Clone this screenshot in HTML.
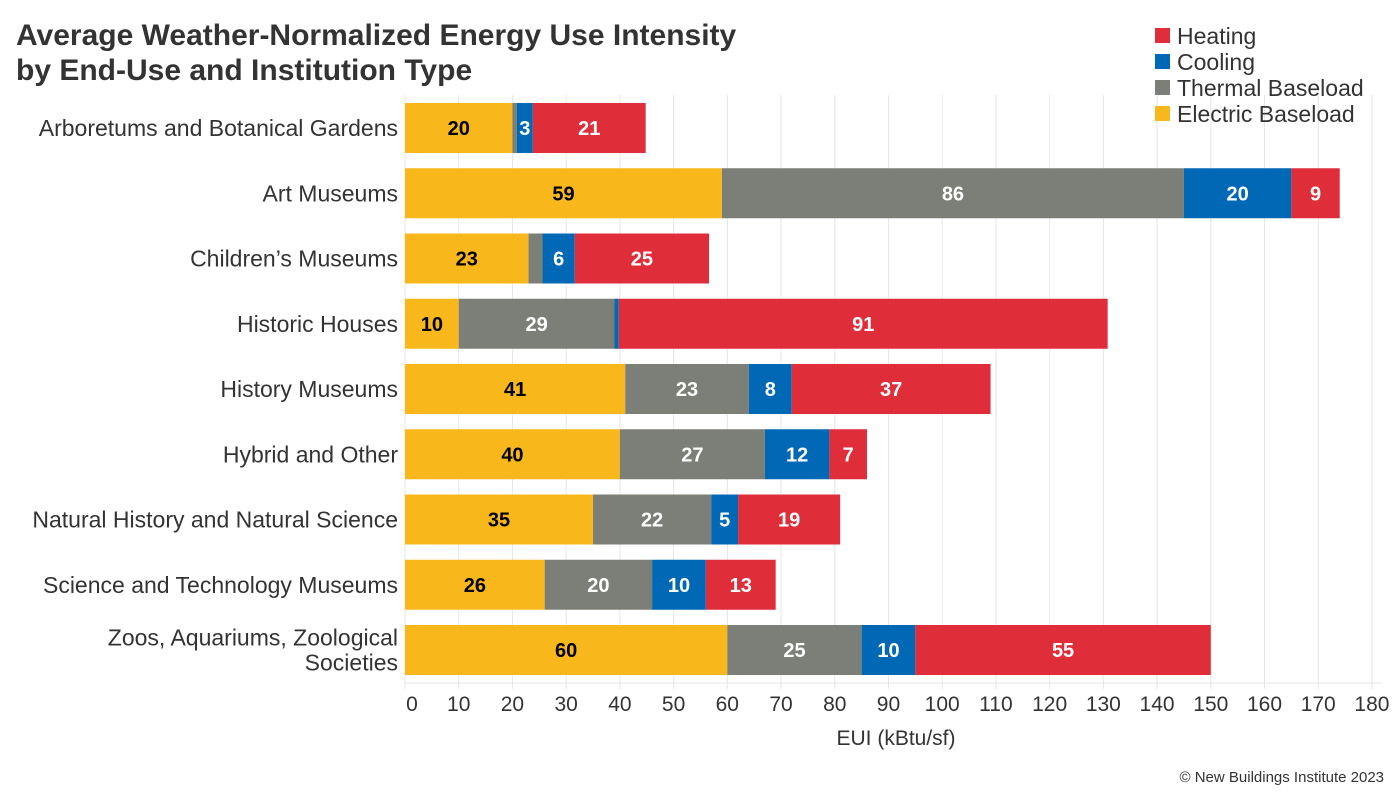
<!DOCTYPE html>
<html><head><meta charset="utf-8"><style>
body{margin:0;background:#fff;font-family:"Liberation Sans",Arial,sans-serif;}
svg text{font-family:"Liberation Sans",Arial,sans-serif;}
</style></head><body>
<svg id="chart" width="1400" height="800" xmlns="http://www.w3.org/2000/svg">
<text x="16" y="45" font-size="30" font-weight="bold" fill="#333">Average Weather-Normalized Energy Use Intensity</text>
<text x="16" y="80" font-size="30" font-weight="bold" fill="#333">by End-Use and Institution Type</text>
<g id="grid"></g><g id="bars"></g><g id="axis"></g>
<text x="896" y="745" font-size="21" fill="#333" text-anchor="middle">EUI (kBtu/sf)</text>
<text x="1384" y="782" font-size="15" fill="#333" text-anchor="end">© New Buildings Institute 2023</text>
<g id="legend"></g>
</svg>
<script>
const categories=[["Arboretums and Botanical Gardens"],["Art Museums"],["Children’s Museums"],["Historic Houses"],["History Museums"],["Hybrid and Other"],["Natural History and Natural Science"],["Science and Technology Museums"],["Zoos, Aquariums, Zoological","Societies"]];
const electric=[20,59,23,10,41,40,35,26,60];
const thermal=[0.8,86,2.6,29,23,27,22,20,25];
const cooling=[3,20,6,0.8,8,12,5,10,10];
const heating=[21,9,25,91,37,7,19,13,55];
const ticks=[0,10,20,30,40,50,60,70,80,90,100,110,120,130,140,150,160,170,180];
const seriesNames=["Heating","Cooling","Thermal Baseload","Electric Baseload"];
const NS="http://www.w3.org/2000/svg";
const x0=405,pxPer=5.372,rowTop=128,rowStep=65.25,barH=50,axisY=683;
const X=v=>x0+v*pxPer, Y=i=>rowTop+i*rowStep;
function mk(tag,attrs,parent,txt){const e=document.createElementNS(NS,tag);for(const k in attrs)e.setAttribute(k,attrs[k]);if(txt!==undefined)e.textContent=txt;parent.appendChild(e);return e;}
const grid=document.getElementById('grid'),bars=document.getElementById('bars'),axis=document.getElementById('axis'),legend=document.getElementById('legend');
ticks.forEach(t=>{
  const g=mk('line',{x1:X(t),x2:X(t),y1:95,y2:axisY+6,stroke:'#e6e6e6','stroke-width':1},grid);
  
  
  const l=mk('text',{x:X(t)+(t===0?7:0),y:711,'font-size':21,fill:'#333','text-anchor':'middle'},axis,t);
  
  
});
const al=mk('line',{x1:x0,x2:X(180)+10,y1:axisY,y2:axisY,stroke:'#e6e6e6','stroke-width':1},axis);


const series=[[electric,'#F8B81C','#000','electric'],[thermal,'#7B7F77','#fff','thermal'],[cooling,'#0068B5','#fff','cooling'],[heating,'#E02D3A','#fff','heating']];
categories.forEach((c,i)=>{
  const cy=Y(i);
  const lab=mk('text',{x:398,'font-size':23,fill:'#333','text-anchor':'end'},axis);
  
  
  c.forEach((line,j)=>{mk('tspan',{x:398,y:cy+8+(j-(c.length-1)/2)*25},lab,line);});
  let acc=0;
  series.forEach(([arr,col,tc,nm])=>{
    const v=arr[i];
    const r=mk('rect',{x:X(acc),y:cy-barH/2,width:v*pxPer,height:barH,fill:col},bars);
    
    
    if(v>=2.8){
      const t=mk('text',{x:X(acc+v/2),y:cy+7,'font-size':20,'font-weight':'bold',fill:tc,'text-anchor':'middle'},bars,Math.round(v));
      
      
    }
    acc+=v;
  });
});
const legCols=['#E02D3A','#0068B5','#7B7F77','#F8B81C'];
seriesNames.forEach((n,i)=>{
  const y=36+i*26;
  const s=mk('rect',{x:1155,y:y-8,width:15,height:15,fill:legCols[i]},legend);
  
  
  const t=mk('text',{x:1177,y:y+8,'font-size':23,fill:'#333'},legend,n);
  
  
});
</script>
</body></html>
